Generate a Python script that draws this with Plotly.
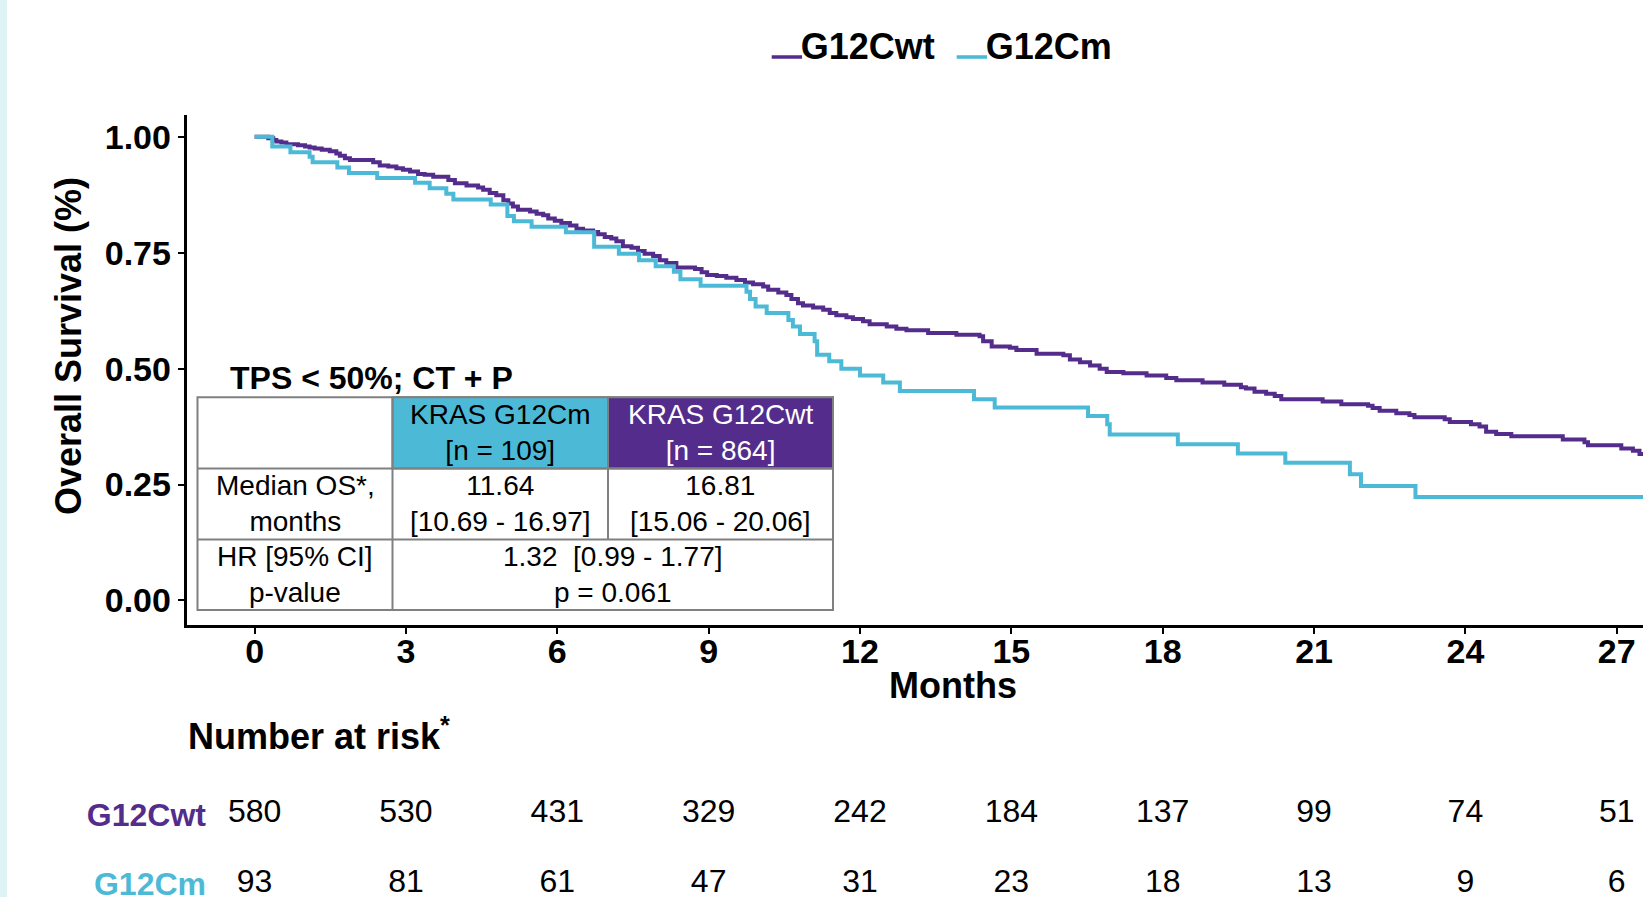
import plotly.graph_objects as go

W, H = 1643, 902
PURPLE = "#542D8C"
CYAN = "#4CBAD6"
FONT = "Liberation Sans, Arial, Helvetica, sans-serif"

# ---- Kaplan-Meier curves ----
wt_months = [0, 0.27, 0.37, 0.43, 0.53, 0.63, 0.86, 1.00, 1.09, 1.19, 1.33, 1.49, 1.62, 1.69, 1.79,
             1.89, 2.35, 2.48, 2.65, 2.81, 2.94, 3.08, 3.24, 3.37, 3.54, 3.84, 3.97, 4.20, 4.43,
             4.53, 4.66, 4.79, 4.93, 5.03, 5.12, 5.22, 5.46, 5.59, 5.72, 5.82, 5.95, 6.08, 6.25,
             6.38, 6.51, 6.71, 6.81, 6.94, 7.07, 7.17, 7.30, 7.47, 7.60, 7.73, 7.90, 8.03, 8.16,
             8.36, 8.73, 8.86, 8.97, 9.16, 9.35, 9.55, 9.72, 9.88, 10.08, 10.18, 10.38, 10.54,
             10.64, 10.77, 10.87, 11.07, 11.27, 11.40, 11.53, 11.73, 11.86, 12.06, 12.19, 12.53,
             12.72, 12.92, 13.35, 13.91, 14.37, 14.44, 14.61, 14.97, 15.10, 15.50, 16.03, 16.16,
             16.36, 16.56, 16.75, 16.89, 17.22, 17.68, 18.07, 18.27, 18.79, 19.22, 19.55, 19.65,
             19.82, 20.05, 20.22, 20.35, 21.17, 21.54, 22.07, 22.16, 22.30, 22.63, 22.89, 22.99,
             23.59, 23.69, 24.11, 24.28, 24.41, 24.61, 24.91, 25.93, 26.36, 26.43, 27.09, 27.32,
             27.45, 27.60]
wt_surv = [1.000, 0.997, 0.993, 0.990, 0.988, 0.984, 0.982, 0.979, 0.977, 0.975, 0.972, 0.969, 0.964,
           0.959, 0.954, 0.950, 0.945, 0.938, 0.936, 0.932, 0.929, 0.925, 0.920, 0.918, 0.914, 0.907,
           0.900, 0.895, 0.891, 0.886, 0.879, 0.874, 0.863, 0.856, 0.850, 0.843, 0.839, 0.834, 0.831,
           0.824, 0.819, 0.814, 0.809, 0.802, 0.798, 0.795, 0.790, 0.784, 0.781, 0.775, 0.764, 0.761,
           0.754, 0.748, 0.743, 0.734, 0.728, 0.718, 0.715, 0.708, 0.702, 0.700, 0.696, 0.691, 0.686,
           0.682, 0.677, 0.670, 0.664, 0.659, 0.650, 0.641, 0.636, 0.632, 0.627, 0.620, 0.615, 0.611,
           0.607, 0.602, 0.596, 0.591, 0.586, 0.583, 0.577, 0.573, 0.570, 0.559, 0.548, 0.545, 0.540,
           0.532, 0.529, 0.520, 0.514, 0.507, 0.500, 0.493, 0.490, 0.485, 0.480, 0.475, 0.470, 0.465,
           0.460, 0.457, 0.450, 0.446, 0.441, 0.434, 0.429, 0.423, 0.420, 0.415, 0.409, 0.404, 0.400,
           0.395, 0.391, 0.385, 0.380, 0.375, 0.364, 0.359, 0.354, 0.347, 0.341, 0.335, 0.328, 0.323,
           0.316, 0.316]

m_months = [0, 0.35, 0.71, 1.09, 1.15, 1.64, 1.87, 2.43, 3.18, 3.47, 3.80, 3.94, 4.68, 5.01, 5.14,
            5.49, 6.17, 6.73, 7.22, 7.62, 7.95, 8.31, 8.44, 8.84, 9.75, 9.82, 9.93, 10.15, 10.58,
            10.67, 10.81, 11.10, 11.15, 11.39, 11.63, 12.00, 12.46, 12.79, 14.26, 14.67, 16.52,
            16.90, 16.95, 18.30, 19.49, 20.43, 21.71, 21.93, 23.01, 27.60]
m_surv = [1.000, 0.979, 0.967, 0.957, 0.945, 0.934, 0.922, 0.911, 0.901, 0.889, 0.877, 0.865, 0.854,
          0.829, 0.818, 0.806, 0.794, 0.763, 0.748, 0.734, 0.721, 0.709, 0.693, 0.679, 0.666, 0.650,
          0.634, 0.620, 0.605, 0.591, 0.575, 0.559, 0.530, 0.516, 0.500, 0.485, 0.470, 0.452, 0.434,
          0.416, 0.398, 0.380, 0.358, 0.337, 0.317, 0.297, 0.272, 0.247, 0.223, 0.223]

# ---- axes ----
x_ticks = [0, 3, 6, 9, 12, 15, 18, 21, 24, 27]
y_ticks = [0.00, 0.25, 0.50, 0.75, 1.00]

# ---- number at risk ----
risk_groups = ["G12Cwt", "G12Cm"]
risk_wt = [580, 530, 431, 329, 242, 184, 137, 99, 74, 51]
risk_m = [93, 81, 61, 47, 31, 23, 18, 13, 9, 6]

# ---- inset table text ----
table_title = "TPS < 50%; CT + P"
hdr_m = "KRAS G12Cm<br>[n = 109]"
hdr_wt = "KRAS G12Cwt<br>[n = 864]"
row1_label = "Median OS*,<br>months"
row1_m = "11.64<br>[10.69 - 16.97]"
row1_wt = "16.81<br>[15.06 - 20.06]"
row2_label = "HR [95% CI]<br>p-value"
row2_val = "1.32&nbsp;&nbsp;[0.99 - 1.77]<br>p = 0.061"


def px(x):
    return x / W


def py(y):
    return 1 - y / H


fig = go.Figure()
fig.add_trace(go.Scatter(x=wt_months, y=wt_surv, mode="lines", line=dict(shape="hv", color=PURPLE, width=4),
                         name="G12Cwt", showlegend=False, hoverinfo="skip"))
fig.add_trace(go.Scatter(x=m_months, y=m_surv, mode="lines", line=dict(shape="hv", color=CYAN, width=4),
                         name="G12Cm", showlegend=False, hoverinfo="skip"))

# risk table rows as text on a second y axis sharing the month axis
fig.add_trace(go.Scatter(x=x_ticks, y=[risk_groups[0]] * len(x_ticks), mode="text",
                         text=[str(v) for v in risk_wt], textposition="middle center",
                         textfont=dict(family=FONT, size=32, color="black"),
                         yaxis="y2", showlegend=False, cliponaxis=False, hoverinfo="skip"))
fig.add_trace(go.Scatter(x=x_ticks, y=[risk_groups[1]] * len(x_ticks), mode="text",
                         text=[str(v) for v in risk_m], textposition="middle center",
                         textfont=dict(family=FONT, size=32, color="black"),
                         yaxis="y2", showlegend=False, cliponaxis=False, hoverinfo="skip"))

axis_font = dict(family=FONT, size=34, color="black", weight="bold")

fig.update_layout(
    width=W, height=H, autosize=False,
    margin=dict(l=0, r=0, t=0, b=0),
    paper_bgcolor="white", plot_bgcolor="white",
    xaxis=dict(domain=[px(186.5), 1.0], range=[-1.35, 27.52], tickvals=x_ticks,
               ticks="outside", ticklen=6, tickwidth=2, tickcolor="black", ticklabelstandoff=-12,
               showline=True, linewidth=2.5, linecolor="black", showgrid=False, zeroline=False,
               tickfont=axis_font, anchor="y"),
    yaxis=dict(domain=[py(628.5), py(115.7)], range=[-0.053, 1.047], tickvals=y_ticks,
               tickformat=".2f", ticks="outside", ticklen=6, tickwidth=2, tickcolor="black",
               showline=True, linewidth=2.5, linecolor="black", showgrid=False, zeroline=False,
               tickfont=axis_font, anchor="x"),
    yaxis2=dict(domain=[0, py(780.5)], range=[-0.186, 1.55], type="category",
                categoryorder="array", categoryarray=["G12Cm", "G12Cwt"],
                tickmode="array", tickvals=["G12Cm", "G12Cwt"],
                ticktext=[f'<span style="color:{CYAN}">G12Cm</span>',
                          f'<span style="color:{PURPLE}">G12Cwt</span>'],
                tickfont=dict(family=FONT, size=32, weight="bold"),
                anchor="free", position=px(206), showline=False, ticks="",
                showgrid=False, zeroline=False),
)

shapes = []
# light strip on the left edge
shapes.append(dict(type="rect", xref="paper", yref="paper", x0=0, x1=px(7), y0=0, y1=1,
                   fillcolor="#DDF3F6", line=dict(width=0), layer="below"))
# table cells
TL, C1, C2, TR = 197.5, 392.5, 608, 833
R0, R1, R2, R3 = 399.5, 471, 542.5, 613.5
GRAY = "#808080"
shapes.append(dict(type="rect", xref="paper", yref="paper", x0=px(TL), x1=px(TR), y0=py(R3), y1=py(R0),
                   fillcolor="white", line=dict(color=GRAY, width=2), layer="above"))
shapes.append(dict(type="rect", xref="paper", yref="paper", x0=px(C1), x1=px(C2), y0=py(R1), y1=py(R0),
                   fillcolor=CYAN, line=dict(color=GRAY, width=2), layer="above"))
shapes.append(dict(type="rect", xref="paper", yref="paper", x0=px(C2), x1=px(TR), y0=py(R1), y1=py(R0),
                   fillcolor=PURPLE, line=dict(color=GRAY, width=2), layer="above"))
for yy in (R1, R2):
    shapes.append(dict(type="line", xref="paper", yref="paper", x0=px(TL), x1=px(TR), y0=py(yy), y1=py(yy),
                       line=dict(color=GRAY, width=2), layer="above"))
shapes.append(dict(type="line", xref="paper", yref="paper", x0=px(C1), x1=px(C1), y0=py(R3), y1=py(R0),
                   line=dict(color=GRAY, width=2), layer="above"))
shapes.append(dict(type="line", xref="paper", yref="paper", x0=px(C2), x1=px(C2), y0=py(R2), y1=py(R0),
                   line=dict(color=GRAY, width=2), layer="above"))
fig.update_layout(shapes=shapes)

ann = []


def cell(text, x0, x1, y0, y1, color="black"):
    ann.append(dict(text=text, xref="paper", yref="paper", x=px((x0 + x1) / 2), y=py((y0 + y1) / 2),
                    xanchor="center", yanchor="middle", showarrow=False,
                    font=dict(family=FONT, size=28, color=color)))


cell(hdr_m, C1, C2, R0, R1)
cell(hdr_wt, C2, TR, R0, R1, color="white")
cell(row1_label, TL, C1, R1, R2)
cell(row1_m, C1, C2, R1, R2)
cell(row1_wt, C2, TR, R1, R2)
cell(row2_label, TL, C1, R2, R3)
cell(row2_val, C1, TR, R2, R3)


def bold(size):
    return dict(family=FONT, size=size, color="black", weight="bold")


def dash(color):
    return (f'<span style="color:{color};font-size:50px;stroke:{color};stroke-width:1.6px;'
            f'baseline-shift:7px">_</span>')


ann.append(dict(text=table_title, xref="paper", yref="paper", x=px(228), y=py(380), xanchor="left",
                yanchor="middle", showarrow=False, font=bold(32)))
ann.append(dict(text="Overall Survival (%)", xref="paper", yref="paper", x=px(68), y=py(348),
                xanchor="center", yanchor="middle", textangle=-90, showarrow=False, font=bold(36)))
ann.append(dict(text="Months", xref="paper", yref="paper", x=px(953.5), y=py(689), xanchor="center",
                yanchor="middle", showarrow=False, font=bold(36)))
ann.append(dict(text="Number at risk<sup>*</sup>", xref="paper", yref="paper", x=px(186), y=py(738),
                xanchor="left", yanchor="middle", showarrow=False, font=bold(36)))
# legend
ann.append(dict(text=dash(PURPLE) + "G12Cwt", xref="paper", yref="paper",
                x=px(770), y=py(37), xanchor="left", yanchor="middle", showarrow=False, font=bold(36)))
ann.append(dict(text=dash(CYAN) + "G12Cm", xref="paper", yref="paper",
                x=px(955), y=py(37), xanchor="left", yanchor="middle", showarrow=False, font=bold(36)))
fig.update_layout(annotations=ann)

fig.write_html("out.html", config={"displayModeBar": False},
               post_script="document.body.style.margin='0px';")
